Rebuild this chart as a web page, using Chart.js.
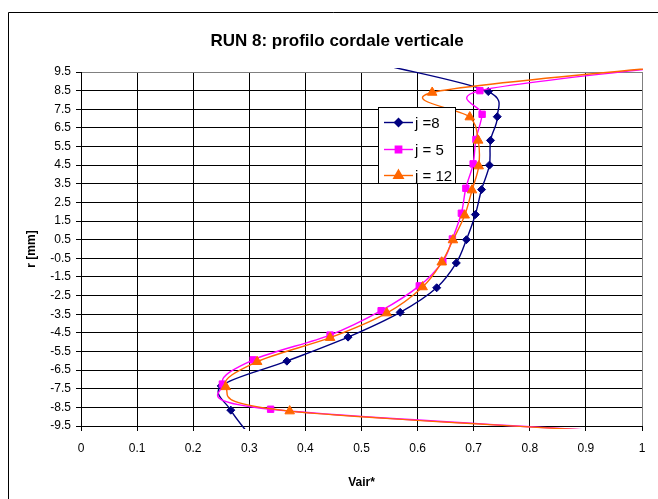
<!DOCTYPE html>
<html>
<head>
<meta charset="utf-8">
<title>RUN 8: profilo cordale verticale</title>
<script src="https://cdn.jsdelivr.net/npm/chart.js@4.4.1/dist/chart.umd.min.js"></script>
<style>
    html, body { margin: 0; padding: 0; background: #fff; }
    #wrap { width: 658px; height: 499px; }
</style>
</head>
<body>
<div id="wrap"><canvas id="grafico" width="658" height="499"></canvas></div>
<script>

const titolo = "RUN 8: profilo cordale verticale";
const titoloX = "Vair*";
const titoloY = "r [mm]";

const nomiSerie = ["j =8", "j = 5", "j = 12"];

const xTicks = [0, 0.1, 0.2, 0.3, 0.4, 0.5, 0.6, 0.7, 0.8, 0.9, 1];
const yTicks = [9.5, 8.5, 7.5, 6.5, 5.5, 4.5, 3.5, 2.5, 1.5, 0.5, -0.5, -1.5, -2.5, -3.5, -4.5, -5.5, -6.5, -7.5, -8.5, -9.5];

// j = 8
const vairJ8 = [0.555, 0.726, 0.742, 0.730, 0.728, 0.714, 0.703, 0.687, 0.669, 0.634, 0.569, 0.476, 0.367, 0.250, 0.267, 0.300];
const rJ8 = [9.77, 8.45, 7.10, 5.83, 4.50, 3.19, 1.85, 0.50, -0.75, -2.08, -3.40, -4.73, -6.02, -7.35, -8.65, -9.97];

// j = 5
const vairJ5 = [1.05, 0.711, 0.715, 0.704, 0.699, 0.686, 0.678, 0.662, 0.645, 0.603, 0.535, 0.444, 0.307, 0.252, 0.338, 1.10];
const rJ5 = [9.80, 8.50, 7.23, 5.88, 4.57, 3.26, 1.92, 0.54, -0.66, -1.98, -3.31, -4.62, -5.95, -7.25, -8.60, -10.05];

// j = 12
const vairJ12 = [1.05, 0.626, 0.693, 0.708, 0.709, 0.697, 0.684, 0.663, 0.643, 0.609, 0.545, 0.444, 0.314, 0.258, 0.372, 1.10];
const rJ12 = [9.80, 8.40, 7.08, 5.83, 4.45, 3.16, 1.81, 0.48, -0.71, -2.04, -3.44, -4.76, -6.05, -7.40, -8.70, -10.05];

const colori = ["#000080", "#FF00FF", "#FF6600"];
const marcatori = ["rectRot", "rect", "triangle"];
const raggi = [4, 4.5, 5.5];

function punti(xs, ys) {
    return xs.map((x, i) => ({ x: x, y: ys[i] }));
}

// Excel non disegna i marcatori fuori dall'area del grafico
function dentro(p) {
    return p.x >= 0 && p.x <= 1 && p.y >= -9.5 && p.y <= 9.5;
}

function serie(i, xs, ys) {
    return {
        label: nomiSerie[i],
        data: punti(xs, ys),
        showLine: true,
        tension: 0.4,
        borderColor: colori[i],
        backgroundColor: colori[i],
        borderWidth: 1.4,
        pointStyle: marcatori[i],
        pointRadius: ctx => dentro(ctx.raw) ? raggi[i] : 0,
        pointBorderWidth: 1,
        order: 2 - i,
        clip: { left: 0, top: 4, right: 1, bottom: 3 }
    };
}

// linea "smussata" come in Excel (Catmull-Rom, fattore 1/6)
const smussa = {
    id: "smussa",
    beforeDatasetDraw(chart, args) {
        const linea = args.meta.dataset;
        if (!linea) return;
        const pts = linea.points;
        for (let i = 0; i < pts.length; i++) {
            const p = pts[i];
            const prec = pts[i - 1] || p;
            const succ = pts[i + 1] || p;
            const dx = (succ.x - prec.x) / 6;
            const dy = (succ.y - prec.y) / 6;
            p.cp1x = p.x - dx;
            p.cp1y = p.y - dy;
            p.cp2x = p.x + dx;
            p.cp2y = p.y + dy;
        }
    }
};

const cornice = {
    id: "cornice",
    beforeDraw(chart) {
        const ctx = chart.ctx;
        ctx.save();
        ctx.fillStyle = "#fff";
        ctx.fillRect(0, 0, chart.width, chart.height);
        ctx.strokeStyle = "#000";
        ctx.lineWidth = 1;
        ctx.beginPath();
        ctx.moveTo(8.5, chart.height);
        ctx.lineTo(8.5, 12.5);
        ctx.lineTo(chart.width, 12.5);
        ctx.stroke();
        ctx.fillStyle = "#000";
        ctx.font = "bold 17px 'Liberation Sans', Arial, sans-serif";
        ctx.textAlign = "center";
        ctx.textBaseline = "middle";
        ctx.fillText(titolo, 337, 41);
        ctx.restore();
    }
};

const legenda = {
    id: "legenda",
    afterDraw(chart) {
        const ctx = chart.ctx;
        ctx.save();
        ctx.fillStyle = "#fff";
        ctx.fillRect(378.5, 107.5, 77, 76);
        ctx.strokeStyle = "#000";
        ctx.lineWidth = 1;
        ctx.strokeRect(378.5, 107.5, 77, 76);

        const righe = [122.5, 149.5, 175.5];

        chart.data.datasets.forEach((ds, i) => {
            const y = righe[i];
            ctx.strokeStyle = colori[i];
            ctx.fillStyle = colori[i];
            ctx.lineWidth = 1.4;
            ctx.beginPath();
            ctx.moveTo(384, y);
            ctx.lineTo(413, y);
            ctx.stroke();
            Chart.helpers.drawPoint(ctx, {
                pointStyle: marcatori[i],
                radius: raggi[i],
                rotation: 0,
                borderWidth: 1
            }, 398.5, y);
            ctx.fillStyle = "#000";
            ctx.font = "15px 'Liberation Sans', Arial, sans-serif";
            ctx.textAlign = "left";
            ctx.textBaseline = "middle";
            ctx.fillText(ds.label, 415, y + 1);
        });

        ctx.restore();
    }
};

function coloreGriglia(bordo) {
    return ctx => (ctx.tick && ctx.tick.value === bordo) ? "#808080" : "#000";
}

new Chart(document.getElementById("grafico"), {
    type: "scatter",
    data: {
        datasets: [
            serie(0, vairJ8, rJ8),
            serie(1, vairJ5, rJ5),
            serie(2, vairJ12, rJ12)
        ]
    },
    options: {
        responsive: false,
        animation: false,
        devicePixelRatio: 1,
        layout: {
            padding: { top: 72, right: 16, bottom: 0, left: 0 }
        },
        elements: {
            line: { capBezierPoints: false }
        },
        plugins: {
            legend: { display: false },
            title: { display: false },
            tooltip: { enabled: false }
        },
        scales: {
            x: {
                type: "linear",
                min: 0,
                max: 1,
                afterBuildTicks: s => { s.ticks = xTicks.map(v => ({ value: v })); },
                afterFit: s => { s.height = 73; },
                grid: { color: coloreGriglia(1), lineWidth: 1, tickLength: 5, tickColor: "#000" },
                border: { color: "#000" },
                ticks: {
                    color: "#000",
                    padding: 10,
                    maxRotation: 0,
                    callback: v => String(v),
                    font: { family: "'Liberation Sans', Arial, sans-serif", size: 12 }
                },
                title: {
                    display: true,
                    text: titoloX,
                    color: "#000",
                    padding: { top: 0, bottom: 9 },
                    font: { family: "'Liberation Sans', Arial, sans-serif", size: 12, weight: "bold" }
                }
            },
            y: {
                type: "linear",
                min: -9.5,
                max: 9.5,
                afterBuildTicks: s => { s.ticks = yTicks.map(v => ({ value: v })); },
                afterFit: s => { s.width = 81; },
                grid: { color: coloreGriglia(9.5), lineWidth: 1, tickLength: 5, tickColor: "#000" },
                border: { color: "#000" },
                ticks: {
                    color: "#000",
                    padding: 5,
                    callback: v => String(v),
                    font: { family: "'Liberation Sans', Arial, sans-serif", size: 12 }
                },
                title: {
                    display: true,
                    text: titoloY,
                    color: "#000",
                    padding: { top: 24, bottom: 0 },
                    font: { family: "'Liberation Sans', Arial, sans-serif", size: 12, weight: "bold" }
                }
            }
        }
    },
    plugins: [smussa, cornice, legenda]
});

</script>
</body>
</html>
